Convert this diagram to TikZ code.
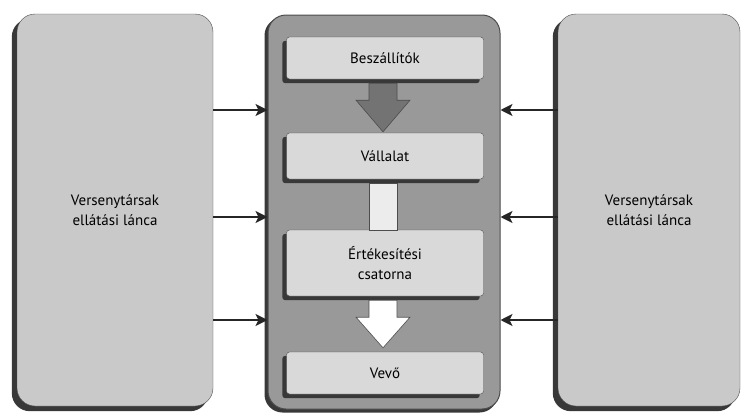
\documentclass[tikz,border=0pt]{standalone}
\usepackage{fontspec}
\setmainfont{PT Sans}
\usetikzlibrary{arrows.meta,positioning,calc,backgrounds}
\definecolor{boxgray}{gray}{0.79}
\definecolor{midgray}{gray}{0.60}
\definecolor{innergray}{gray}{0.85}
\definecolor{edgegray}{gray}{0.30}
\definecolor{shadegray}{gray}{0.22}
\pgfdeclarelayer{front}
\pgfsetlayers{background,main,front}

\begin{document}
\begin{tikzpicture}[x=1pt,y=-1pt,font=\fontsize{15}{20}\selectfont,
   side/.style={draw=edgegray,fill=boxgray,rounded corners=18pt,minimum width=196pt,
                minimum height=392pt,align=center},
   mid/.style={draw=edgegray,line width=1pt,fill=midgray,rounded corners=18pt,
               minimum width=232pt,minimum height=394pt},
   inner/.style={draw=edgegray,fill=innergray,rounded corners=3pt,minimum width=197pt,
                 align=center},
   shd/.style={fill=shadegray,rounded corners=#1},
   arr/.style={-{Stealth[length=12pt,width=12pt,inset=3pt]},line width=2pt,draw=black!85},
   blk/.style={draw=edgegray,line width=0.6pt,line join=miter}]
  \useasboundingbox (0,0) rectangle (744,415);
  \node[side] (lc) at (115,210) {Versenytársak\\ellátási lánca};
  \node[mid] (cb) at (384,212) {};
  \node[side,minimum width=182pt] (rc) at (649,210) {Versenytársak\\ellátási lánca};
  \begin{pgfonlayer}{front}
    \node[inner,minimum height=42pt] (bs) at (385,58) {Beszállítók};
    \node[inner,minimum height=46pt] (vl) at (385,156) {Vállalat};
    \node[inner,minimum height=66pt] (ert) at (385,263) {Értékesítési\\csatorna};
    \node[inner,minimum height=42pt] (vv) at (385,373) {Vevő};
    % block arrows in the middle column
    \filldraw[blk,fill=black!55] ($(bs.south)+(-16,4)$) -- ++(0,17) -- ++(-13,0)
         -- ($(vl.north)+(-2,-1)$) -- ($(bs.south)+(25,21)$) -- ++(-13,0) -- ++(0,-17) -- cycle;
    \filldraw[blk,fill=gray!15] ($(vl.south)+(-16,4)$) rectangle ($(ert.north)+(12,0)$);
    \filldraw[blk,fill=white] ($(ert.south)+(-16,4)$) -- ++(0,17) -- ++(-13,0)
         -- ($(vv.north)+(-2,-4)$) -- ($(ert.south)+(25,21)$) -- ++(-13,0) -- ++(0,-17) -- cycle;
  \end{pgfonlayer}
  % shaded edges
  \foreach \n in {bs,vl,ert,vv}
    \fill[shd=3pt] ($(\n.south west)+(-4,4)$) rectangle ($(\n.north east)+(-4,4)$);
  \begin{pgfonlayer}{background}
    \foreach \n/\d in {lc/5,rc/5,cb/3}
      \fill[shd=18pt] ($(\n.south west)+(-\d,\d)$) rectangle ($(\n.north east)+(-\d,\d)$);
  \end{pgfonlayer}
  % competitors pushing on the chain
  \foreach \yy in {110,217,320} {
    \draw[arr] (lc.east |- 0,\yy) -- (cb.west |- 0,\yy);
    \draw[arr] (rc.west |- 0,\yy) -- (cb.east |- 0,\yy);
  }
\end{tikzpicture}
\end{document}
